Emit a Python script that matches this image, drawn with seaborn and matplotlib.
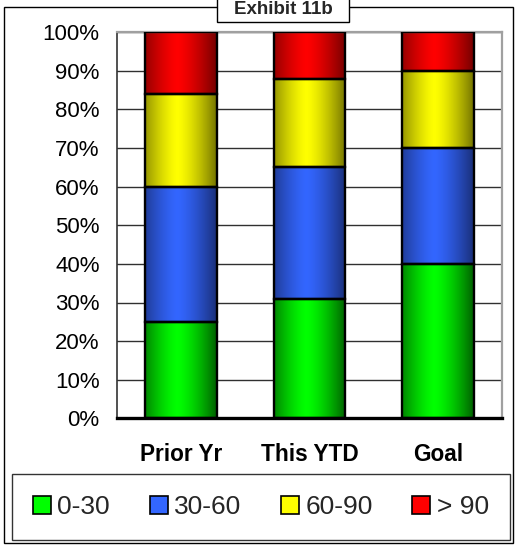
import numpy as np
import pandas as pd
import matplotlib
matplotlib.use('Agg')
import matplotlib.pyplot as plt
import seaborn as sns
from matplotlib.patches import Rectangle, Patch
from matplotlib.colors import to_rgb

# --- DATA ---
categories = ['Prior Yr', 'This YTD', 'Goal']
series = ['0-30', '30-60', '60-90', '> 90']
share_0_30 = [25, 31, 40]
share_30_60 = [35, 34, 30]
share_60_90 = [24, 23, 20]
share_over_90 = [16, 12, 10]

# --- COLORS (center / edge of the gradient) ---
BRIGHT = {'0-30': '#00ff00', '30-60': '#3366ff', '60-90': '#ffff00', '> 90': '#ff0000'}
DARK = {'0-30': '#006000', '30-60': '#1a2f78', '60-90': '#747400', '> 90': '#740000'}

sns.set_theme(style='white')
plt.rcParams['font.family'] = ['Liberation Sans', 'DejaVu Sans']

fig = plt.figure(figsize=(5.16, 5.46), dpi=100)
ax = fig.add_axes([117 / 516, 1 - 418.3 / 546, (502 - 117) / 516, (418.3 - 32.3) / 546])

values = pd.DataFrame({'0-30': share_0_30, '30-60': share_30_60,
                       '60-90': share_60_90, '> 90': share_over_90}, index=categories)
cum = values.cumsum(axis=1)

# stacked bars: tallest first, then shorter ones in front
for s in reversed(series):
    sns.barplot(x=categories, y=cum[s].values, color=BRIGHT[s], saturation=1,
                width=0.56, edgecolor='black', linewidth=1.7, ax=ax)

# turn each bar into its own segment and give it a horizontal gradient
def gradient_img(s):
    xs = np.linspace(0, 1, 200)
    t = 1 - np.clip(np.abs(xs - 0.45) / 0.55, 0, 1) ** 1.4
    c0 = np.array(to_rgb(DARK[s]))
    c1 = np.array(to_rgb(BRIGHT[s]))
    row = c0[None, :] + (c1 - c0)[None, :] * t[:, None]
    return np.repeat(row[None, :, :], 2, axis=0)

n = len(categories)
patches = list(ax.patches)
for k, s in enumerate(reversed(series)):
    idx = series.index(s)
    for j in range(n):
        p = patches[k * n + j]
        bottom = cum.iloc[j, idx - 1] if idx > 0 else 0
        p.set_y(bottom)
        p.set_height(values.iloc[j, idx])
        p.set_facecolor('none')
        p.set_zorder(3)
        x0, w = p.get_x(), p.get_width()
        im = ax.imshow(gradient_img(s), extent=[x0, x0 + w, bottom, bottom + values.iloc[j, idx]],
                       aspect='auto', interpolation='bilinear', zorder=2)
        im.set_clip_path(p)

ax.set_xlim(-0.5, 2.5)
ax.set_ylim(0, 100)
ax.set_yticks(np.arange(0, 101, 10))
ax.set_yticklabels([f'{v}%' for v in range(0, 101, 10)], fontsize=16)
ax.set_xticks(range(n))
ax.set_xticklabels(categories, fontsize=16.3, fontweight='bold')
ax.set_xticks([-0.5, 0.5, 1.5, 2.5], minor=True)
ax.tick_params(axis='x', which='major', length=0, pad=18, colors='black')
ax.tick_params(axis='x', which='minor', length=6, width=2.2, direction='out', color='black')
ax.tick_params(axis='y', length=4.5, width=1, direction='out', color='#333333', pad=8, colors='black')
ax.tick_params(axis='y', colors='black')
ax.set_ylabel('')
ax.set_xlabel('')

ax.yaxis.grid(True, color='#303030', linewidth=1)
ax.set_axisbelow(True)
ax.spines['bottom'].set_linewidth(2.4)
ax.spines['bottom'].set_color('black')
ax.spines['left'].set_linewidth(1.2)
ax.spines['left'].set_color('#333333')
for side in ['top', 'right']:
    ax.spines[side].set_visible(True)
    ax.spines[side].set_color('#a0a0a0')
    ax.spines[side].set_linewidth(1.6)

# legend
handles = [Patch(facecolor=BRIGHT[s], edgecolor='black', linewidth=1.2, label=s) for s in series]
leg = fig.legend(handles=handles, loc='center', ncol=4, fontsize=19,
                 bbox_to_anchor=(261 / 516, 1 - 507 / 546), frameon=True, fancybox=False,
                 handlelength=0.68, handleheight=0.68, handletextpad=0.25, columnspacing=1.5,
                 borderpad=0.78)
leg.get_frame().set_edgecolor('black')
leg.get_frame().set_linewidth(1)
leg.get_frame().set_boxstyle('square', pad=0)

# outer frame and title box
fig.patches.append(Rectangle((4 / 516, 1 - 543 / 546), 509 / 516, 536 / 546, transform=fig.transFigure,
                             fill=False, edgecolor='black', linewidth=1, zorder=0))
fig.patches.append(Rectangle((217 / 516, 1 - 22 / 546), 132 / 516, 26 / 546, transform=fig.transFigure,
                             facecolor='white', edgecolor='black', linewidth=1, zorder=5))
fig.text(283 / 516, 1 - 10 / 546, 'Exhibit 11b', ha='center', va='center', fontsize=13.5,
         fontweight='bold', zorder=6)

fig.savefig('out.png', dpi=100)
